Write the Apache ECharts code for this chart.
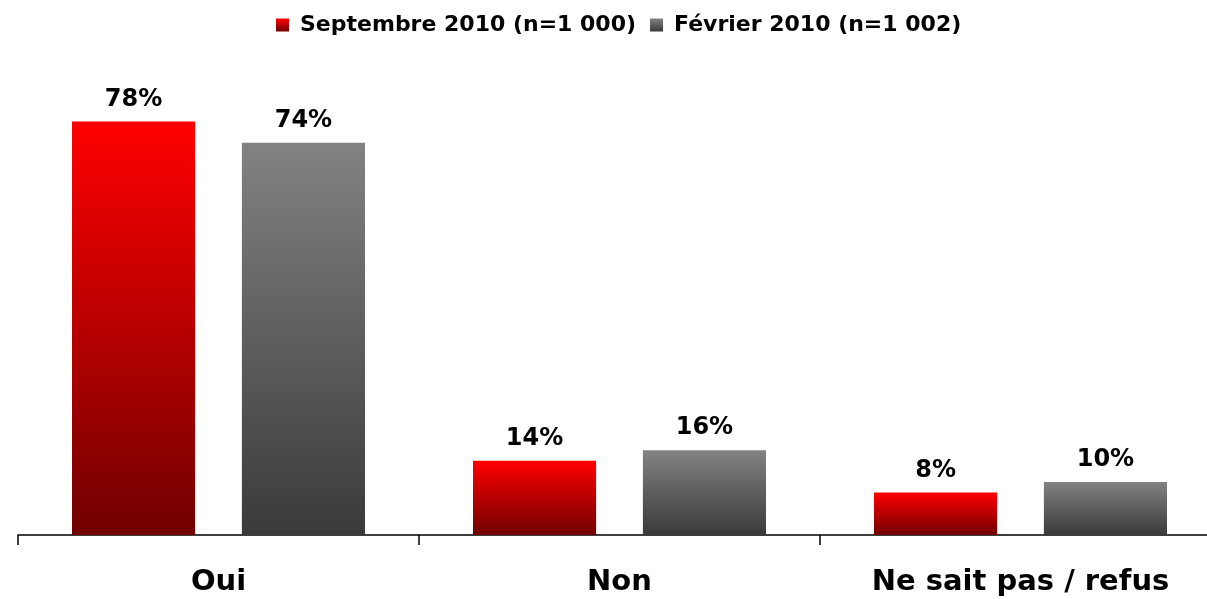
<!DOCTYPE html>
<html>
<head>
<meta charset="UTF-8">
<title>Sondage</title>
<script src="https://cdn.jsdelivr.net/npm/echarts@6/dist/echarts.min.js"></script>
<style>
  html, body { margin: 0; padding: 0; background: #fff; overflow: hidden; }
</style>
</head>
<body>
<!-- un peu plus large que la fenêtre : l'axe sort à droite comme dans l'original -->
<div id="main" style="width: 1221px; height: 599px;"></div>
<script type="text/javascript">
var categories = ['Oui', 'Non', 'Ne sait pas / refus'];
var seriesNames = ['Septembre 2010 (n=1 000)', 'Février 2010 (n=1 002)'];
var septembre = [78, 14, 8];
var fevrier = [74, 16, 10];

var police = 'DejaVu Sans, Verdana, sans-serif';

function degrade(haut, bas) {
    return new echarts.graphic.LinearGradient(0, 0, 0, 1, [
        { offset: 0, color: haut },
        { offset: 1, color: bas }
    ]);
}

var etiquette = {
    show: true,
    position: 'top',
    distance: 10,
    formatter: '{c}%',
    fontFamily: police,
    fontWeight: 'bold',
    fontSize: 24,
    color: '#000'
};

var myChart = echarts.init(document.getElementById('main'));
var option = {
    animation: false,
    legend: {
        top: 14,
        left: 276,
        padding: 0,
        itemWidth: 13,
        itemHeight: 13,
        itemGap: 14,
        icon: 'rect',
        textStyle: { fontFamily: police, fontWeight: 'bold', fontSize: 22, color: '#000', padding: [0, 0, 0, 6] },
        data: seriesNames
    },
    grid: { left: 18, right: 0, top: 5, bottom: 64, containLabel: false },
    xAxis: {
        type: 'category',
        data: categories,
        axisLine: { lineStyle: { color: '#000', width: 1.5 } },
        axisTick: { show: true, length: 10, lineStyle: { color: '#000', width: 1.5 } },
        axisLabel: { margin: 33, fontFamily: police, fontWeight: 'bold', fontSize: 29, color: '#000' }
    },
    yAxis: {
        type: 'value',
        min: 0,
        max: 100,
        show: false
    },
    series: [
        {
            name: seriesNames[0],
            type: 'bar',
            data: septembre,
            barWidth: '30.7%',
            barGap: '38%',
            itemStyle: { color: degrade('#ff0000', '#700000') },
            label: etiquette
        },
        {
            name: seriesNames[1],
            type: 'bar',
            data: fevrier,
            barWidth: '30.7%',
            itemStyle: { color: degrade('#828282', '#3a3a3a') },
            label: etiquette
        }
    ]
};
myChart.setOption(option);
</script>
</body>
</html>
